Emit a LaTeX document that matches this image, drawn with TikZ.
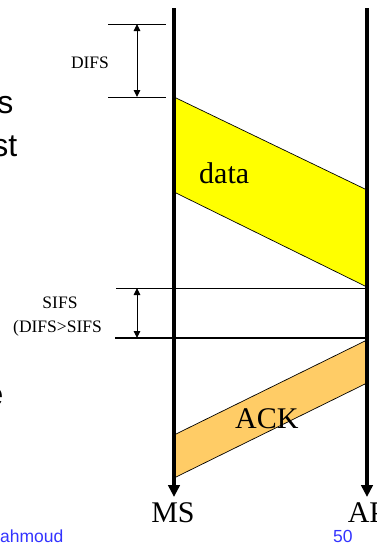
\documentclass[tikz,border=0pt]{standalone}
\usepackage{fontspec}
\setmainfont{Liberation Serif}
\newfontfamily\slidesans{Liberation Sans}
\usetikzlibrary{arrows.meta}
\definecolor{datayellow}{RGB}{255,255,0}
\definecolor{ackorange}{RGB}{255,204,102}
\definecolor{footblue}{RGB}{51,51,255}
\begin{document}
\begin{tikzpicture}[x=1pt,y=-1pt,
  timeline/.style={line width=3.4pt,-{Triangle[length=12pt,width=11.5pt]}},
  frame/.style={draw=black,line width=0.7pt},
  gapspan/.style={line width=1pt,{Triangle[length=7pt,width=6.5pt]}-{Triangle[length=7pt,width=6.5pt]}},
  thinrule/.style={line width=1pt},
  thickrule/.style={line width=2pt},
  gaplabel/.style={font=\fontsize{17.5}{20}\selectfont,inner sep=0pt},
  msglabel/.style={font=\fontsize{30}{34}\selectfont,inner sep=0pt},
  slidetext/.style={font=\slidesans\fontsize{32}{36}\selectfont,inner sep=0pt},
  foot/.style={font=\slidesans\fontsize{17.5}{20}\selectfont,text=footblue,inner sep=0pt}]
\useasboundingbox (0,0) rectangle (377,544);
\clip (0,0) rectangle (377,544);

% station time lines
\coordinate (msTop) at (174,8);
\coordinate (msEnd) at (174,497);
\coordinate (apTop) at (367,8);
\coordinate (apEnd) at (367,497);

% data frame MS -> AP
\coordinate (d1) at (174,97);
\coordinate (d2) at (367,190);
\coordinate (d3) at (367,287);
\coordinate (d4) at (174,192);
\filldraw[frame,fill=datayellow] (d1) -- (d2) -- (d3) -- (d4) -- cycle;

% ACK frame AP -> MS
\coordinate (a1) at (174,435);
\coordinate (a2) at (367,340);
\coordinate (a3) at (367,383);
\coordinate (a4) at (174,478);
\filldraw[frame,fill=ackorange] (a1) -- (a2) -- (a3) -- (a4) -- cycle;

% DIFS interval
\coordinate (difsTopL) at (108,24);
\coordinate (difsTopR) at (166,24);
\coordinate (difsBotL) at (108,97);
\coordinate (difsBotR) at (166,97);
\coordinate (difsA) at (137,24);
\coordinate (difsB) at (137,97);
\draw[thinrule] (difsTopL) -- (difsTopR);
\draw[thinrule] (difsBotL) -- (difsBotR);
\draw[gapspan] (difsA) -- (difsB);

% SIFS interval
\coordinate (sifsTopL) at (116,288);
\coordinate (sifsTopR) at (367,288);
\coordinate (sifsBotL) at (115,338);
\coordinate (sifsBotR) at (367,338);
\coordinate (sifsA) at (137,288);
\coordinate (sifsB) at (137,338);
\draw[thinrule] (sifsTopL) -- (sifsTopR);
\draw[thickrule] (sifsBotL) -- (sifsBotR);
\draw[gapspan] (sifsA) -- (sifsB);

\draw[timeline] (msTop) -- (msEnd);
\draw[timeline] (apTop) -- (apEnd);

% labels
\node[gaplabel,anchor=base] (difsText) at (90,68) {DIFS};
\node[gaplabel,anchor=base] (sifsText) at (60,308) {SIFS};
\node[gaplabel,anchor=base west] (cmpText) at (13,332) {(DIFS>SIFS};
\node[msglabel,anchor=base west] (dataText) at (199,183) {data};
\node[msglabel,anchor=base west] (ackText) at (235,428) {ACK};
\node[msglabel,anchor=base] (msText) at (173,522) {MS};
\node[msglabel,anchor=base] (apText) at (367,522) {AP};

% slide text cut at the left edge
\node[slidetext,anchor=base east] (frag1) at (13.5,113) {s};
\node[slidetext,anchor=base east] (frag2) at (17.5,156) {st};
\node[slidetext,anchor=base east] (frag3) at (3.5,405) {e};

% footer
\node[foot,anchor=base west] (footName) at (0,542) {ahmoud};
\node[foot,anchor=base west] (footPage) at (333,542) {50};
\end{tikzpicture}
\end{document}
